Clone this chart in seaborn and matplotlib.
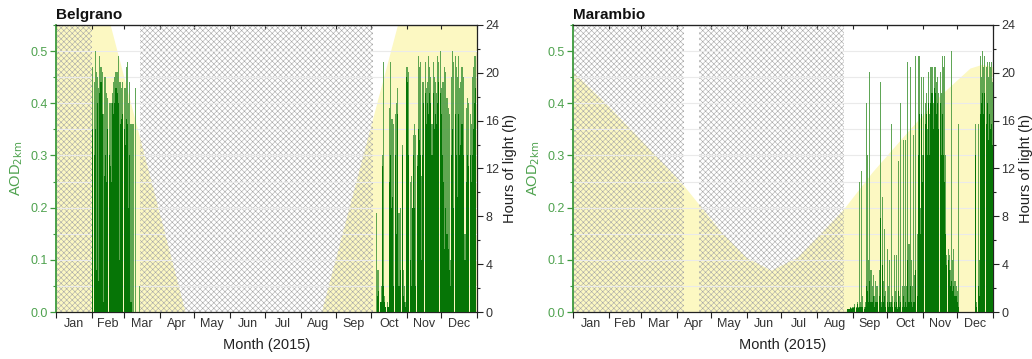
import numpy as np
import matplotlib
matplotlib.use("Agg")
import matplotlib.pyplot as plt
import seaborn as sns
from matplotlib.ticker import MultipleLocator, FormatStrFormatter

sns.set_style("white")
plt.rcParams['font.family'] = ['Liberation Sans', 'DejaVu Sans']
plt.rcParams['hatch.linewidth'] = 0.4

# ---------------------------------------------------------------- data
months = ["Jan", "Feb", "Mar", "Apr", "May", "Jun",
          "Jul", "Aug", "Sep", "Oct", "Nov", "Dec"]
month_starts = [0, 31, 59, 90, 120, 151, 181, 212, 243, 273, 304, 334, 365]

# Hours of daylight (knots: day of year, hours)
bel_light_day = [0, 47, 112, 230, 296, 365]
bel_light_hours = [24, 24, 0, 0, 24, 24]
mar_light_day = [0, 30, 60, 96, 128, 150, 172, 195, 217, 235, 260, 290, 320, 345, 355, 365]
mar_light_hours = [20.1, 17.3, 14.3, 10.6, 6.8, 4.6, 3.5, 4.6, 6.8, 8.6, 11.7, 15.0, 18.2, 20.4, 20.7, 20.5]

# Periods without measurements (day-of-year spans)
bel_nodata = [(0, 31.3), (72.8, 275)]
mar_nodata = [(0, 96.5), (109.5, 235.5)]

# Belgrano daily AOD, summer 2015 (Feb 1 onwards): daily maximum and bulk level
bel_feb_start = 32
bel_feb_peak = [0.47, 0.44, 0.50, 0.46, 0.45, 0.43, 0.49, 0.47, 0.46, 0.38,
                0.45, 0.45, 0.42, 0.41, 0.40, 0.40, 0.40, 0.42, 0.44, 0.45,
                0.46, 0.46, 0.49, 0.44, 0.44, 0.43, 0.44, 0.43, 0.43, 0.47,
                0.48, 0.40, 0.44, 0.36, 0.36, 0.36, 0.00, 0.43, 0.00, 0.00, 0.05]
bel_feb_base = [0.35, 0.30, 0.35, 0.08, 0.40, 0.06, 0.42, 0.44, 0.38, 0.02,
                0.26, 0.30, 0.25, 0.35, 0.30, 0.28, 0.25, 0.40, 0.38, 0.40,
                0.43, 0.42, 0.40, 0.10, 0.36, 0.37, 0.38, 0.35, 0.32, 0.37,
                0.36, 0.20, 0.30, 0.02, 0.00, 0.00, 0.00, 0.00, 0.00, 0.00, 0.00]

# Belgrano daily AOD, spring 2015 (from early October)
bel_oct_start = 278
bel_oct_peak = [0.19, 0.08, 0.08, 0.02, 0.05, 0.30, 0.48, 0.03, 0.01, 0.02,
                0.01, 0.39, 0.48, 0.37, 0.37, 0.36, 0.38, 0.40, 0.43, 0.19,
                0.19, 0.20, 0.32, 0.08, 0.05, 0.02, 0.47, 0.47, 0.46, 0.25,
                0.26, 0.20, 0.34, 0.36, 0.34, 0.30, 0.49, 0.47, 0.48, 0.26,
                0.44, 0.44, 0.48, 0.43, 0.44, 0.49, 0.47, 0.45, 0.36, 0.48,
                0.45, 0.44, 0.42, 0.49, 0.48, 0.50, 0.43, 0.44, 0.44, 0.47,
                0.46, 0.41, 0.39, 0.38, 0.10, 0.45, 0.50, 0.48, 0.49, 0.47,
                0.45, 0.49, 0.43, 0.44, 0.47, 0.45, 0.15, 0.15, 0.39, 0.41,
                0.40, 0.38, 0.36, 0.45, 0.47, 0.49, 0.49]
bel_oct_base = [0.00, 0.03, 0.04, 0.02, 0.02, 0.28, 0.05, 0.02, 0.01, 0.01,
                0.01, 0.25, 0.30, 0.20, 0.22, 0.05, 0.30, 0.15, 0.38, 0.05,
                0.05, 0.08, 0.30, 0.03, 0.02, 0.01, 0.45, 0.44, 0.30, 0.10,
                0.05, 0.20, 0.30, 0.20, 0.05, 0.28, 0.35, 0.33, 0.30, 0.10,
                0.30, 0.40, 0.42, 0.36, 0.40, 0.38, 0.42, 0.40, 0.30, 0.42,
                0.35, 0.38, 0.36, 0.40, 0.44, 0.42, 0.38, 0.30, 0.25, 0.12,
                0.20, 0.15, 0.12, 0.08, 0.05, 0.30, 0.35, 0.20, 0.38, 0.30,
                0.22, 0.38, 0.30, 0.32, 0.36, 0.30, 0.10, 0.10, 0.25, 0.30,
                0.28, 0.30, 0.25, 0.30, 0.35, 0.40, 0.43]

# Marambio daily AOD (from late August)
mar_start = 239
mar_peak = [0.005, 0.005, 0.01, 0.008, 0.01, 0.01, 0.015, 0.01, 0.02, 0.01,
            0.25, 0.02, 0.27, 0.03, 0.01, 0.02, 0.40, 0.30, 0.10, 0.46,
            0.08, 0.05, 0.07, 0.03, 0.06, 0.05, 0.05, 0.08, 0.44, 0.02,
            0.22, 0.06, 0.16, 0.04, 0.12, 0.05, 0.10, 0.02, 0.36, 0.03,
            0.11, 0.04, 0.11, 0.01, 0.29, 0.03, 0.40, 0.05, 0.33, 0.05,
            0.33, 0.05, 0.48, 0.13, 0.47, 0.10, 0.05, 0.34, 0.07, 0.49,
            0.15, 0.49, 0.49, 0.20, 0.45, 0.30, 0.45, 0.40, 0.42, 0.35,
            0.46, 0.38, 0.47, 0.47, 0.40, 0.47, 0.47, 0.44, 0.45, 0.42,
            0.46, 0.42, 0.49, 0.47, 0.49, 0.30, 0.11, 0.12, 0.11, 0.08,
            0.50, 0.10, 0.12, 0.06, 0.05, 0.04, 0.36, 0.00, 0.00, 0.00,
            0.00, 0.00, 0.00, 0.00, 0.00, 0.00, 0.00, 0.00, 0.00, 0.00,
            0.00, 0.36, 0.02, 0.36, 0.10, 0.49, 0.45, 0.50, 0.47, 0.49,
            0.47, 0.48, 0.45, 0.48, 0.47, 0.48, 0.44]
mar_base = [0.005, 0.005, 0.008, 0.005, 0.008, 0.008, 0.01, 0.008, 0.015, 0.008,
            0.01, 0.01, 0.01, 0.01, 0.005, 0.01, 0.05, 0.04, 0.02, 0.06,
            0.02, 0.02, 0.03, 0.01, 0.02, 0.02, 0.02, 0.03, 0.18, 0.01,
            0.09, 0.02, 0.03, 0.01, 0.02, 0.01, 0.02, 0.01, 0.02, 0.01,
            0.02, 0.01, 0.02, 0.005, 0.04, 0.01, 0.02, 0.01, 0.03, 0.01,
            0.02, 0.01, 0.10, 0.02, 0.05, 0.02, 0.01, 0.02, 0.02, 0.08,
            0.03, 0.30, 0.38, 0.15, 0.38, 0.25, 0.30, 0.36, 0.38, 0.30,
            0.40, 0.30, 0.40, 0.42, 0.35, 0.43, 0.42, 0.38, 0.40, 0.35,
            0.40, 0.30, 0.38, 0.30, 0.25, 0.15, 0.09, 0.10, 0.08, 0.05,
            0.06, 0.04, 0.05, 0.03, 0.03, 0.02, 0.01, 0.00, 0.00, 0.00,
            0.00, 0.00, 0.00, 0.00, 0.00, 0.00, 0.00, 0.00, 0.00, 0.00,
            0.00, 0.30, 0.01, 0.05, 0.03, 0.38, 0.40, 0.42, 0.38, 0.42,
            0.36, 0.40, 0.33, 0.38, 0.35, 0.36, 0.32]

# ---------------------------------------------------------------- style
GREEN_AX = "#3d9a3d"
GREEN_TXT = "#4ea24e"
BAR_LIGHT = "#4f9d45"
BAR_DARK = "#067506"
YELLOW = "#fcf8c2"
HATCH_GRAY = "#a8a8a8"


def draw_panel(ax, title, light_day, light_hours, nodata, segments):
    ax2 = ax.twinx()
    ax.set_zorder(ax2.get_zorder() + 1)
    ax.patch.set_visible(False)

    # daylight duration on the right axis
    ax2.fill_between(light_day, 0, light_hours, color=YELLOW, lw=0)
    ax2.set_ylim(0, 24)

    # periods without data
    for a, b in nodata:
        ax.axvspan(a, b, facecolor="none", edgecolor=HATCH_GRAY,
                   hatch="xxxxxx", lw=0, zorder=1)

    # AOD bars: daily maximum (light) and bulk level (dark)
    days, peak, base = [], [], []
    for start, pk, bs in segments:
        days += list(range(start, start + len(pk)))
        peak += pk
        base += bs
    n0 = len(ax.patches)
    sns.histplot(x=days, weights=peak, discrete=True, shrink=0.9,
                 color=BAR_LIGHT, alpha=0.9, linewidth=0, ax=ax)
    sns.histplot(x=days, weights=base, discrete=True, shrink=0.9,
                 color=BAR_DARK, alpha=1.0, linewidth=0, ax=ax)
    for p in ax.patches[n0:]:
        p.set_zorder(3)

    # light horizontal grid
    ax.set_axisbelow("line")
    ax.yaxis.grid(True, which="both", color="#eaeaea", lw=0.8)
    ax.xaxis.grid(False)

    # x axis
    ax.set_xlim(0, 365)
    ax.set_xticks(month_starts)
    ax.set_xticklabels([])
    mids = [(month_starts[i] + month_starts[i + 1]) / 2 for i in range(12)]
    ax.set_xticks(mids, labels=months, minor=True)
    ax.tick_params(axis="x", which="major", direction="out", length=4,
                   width=0.8, bottom=True, color="#222222")
    ax.tick_params(axis="x", which="minor", length=0, labelsize=9, pad=4,
                   labelcolor="#333333", bottom=True)
    ax.set_xlabel("Month (2015)", fontsize=10.5, color="#222222", labelpad=6)

    sec = ax.secondary_xaxis("top")
    sec.set_xticks(month_starts, labels=[""] * len(month_starts))
    sec.tick_params(direction="in", length=3, width=0.8, color="#222222")

    # left axis (AOD)
    ax.set_ylim(0, 0.55)
    ax.yaxis.set_major_locator(MultipleLocator(0.1))
    ax.yaxis.set_minor_locator(MultipleLocator(0.05))
    ax.yaxis.set_major_formatter(FormatStrFormatter("%.1f"))
    ax.tick_params(axis="y", which="major", direction="out", length=4,
                   width=0.9, left=True, color=GREEN_AX, labelcolor=GREEN_TXT,
                   labelsize=9, pad=2)
    ax.tick_params(axis="y", which="minor", direction="out", length=2,
                   width=0.8, left=True, color=GREEN_AX)
    ax.set_ylabel(r"AOD$_{\mathrm{2km}}$", color=GREEN_TXT, fontsize=10.5,
                  labelpad=4)
    for side in ("top", "bottom"):
        ax.spines[side].set_color("#222222")
        ax.spines[side].set_linewidth(0.9)
    ax.spines["left"].set_color(GREEN_AX)
    ax.spines["left"].set_linewidth(1.3)
    ax.spines["right"].set_visible(False)

    # right axis (hours of light)
    ax2.yaxis.set_major_locator(MultipleLocator(4))
    ax2.yaxis.set_minor_locator(MultipleLocator(2))
    ax2.tick_params(axis="y", which="major", direction="out", length=4,
                    width=0.8, right=True, color="#222222",
                    labelcolor="#333333", labelsize=9, pad=2)
    ax2.tick_params(axis="y", which="minor", direction="out", length=2,
                    width=0.8, right=True, color="#222222")
    ax2.set_ylabel("Hours of light (h)", fontsize=10.5, color="#222222",
                   labelpad=3)
    ax2.spines["right"].set_color("#222222")
    ax2.spines["right"].set_linewidth(0.9)
    for side in ("left", "top", "bottom"):
        ax2.spines[side].set_visible(False)

    ax.set_title(title, loc="left", fontweight="bold", fontsize=11,
                 pad=4, color="#111111")


fig = plt.figure(figsize=(10.32, 3.59), dpi=100)
ax_bel = fig.add_axes([0.0543, 0.1309, 0.4079, 0.7995])
ax_mar = fig.add_axes([0.5552, 0.1309, 0.4070, 0.7995])

draw_panel(ax_bel, "Belgrano", bel_light_day, bel_light_hours, bel_nodata,
           [(bel_feb_start, bel_feb_peak, bel_feb_base),
            (bel_oct_start, bel_oct_peak, bel_oct_base)])
draw_panel(ax_mar, "Marambio", mar_light_day, mar_light_hours, mar_nodata,
           [(mar_start, mar_peak, mar_base)])

fig.savefig("out.png", dpi=100)
